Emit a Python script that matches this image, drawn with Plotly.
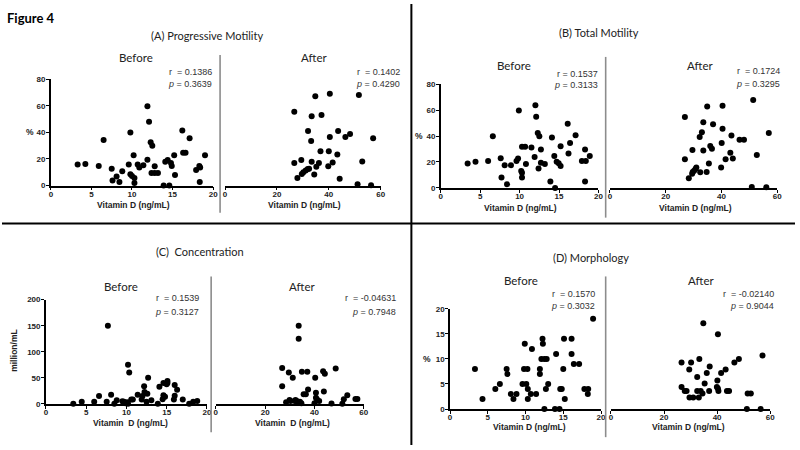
import plotly.graph_objects as go

W, H = 800, 450

# ---------------- data ----------------
a_before_x = [3.3, 4.25, 5.9, 6.5, 7.5, 7.6, 8.1, 8.45, 8.8, 9.6, 9.8, 9.8, 10.0, 10.2, 10.3, 10.3, 10.7, 10.9,
              11.4, 11.9, 11.9, 12.1, 12.3, 12.5, 12.4, 12.8, 12.8, 13.2, 13.9, 14.1, 14.4, 14.6, 14.8, 14.9,
              15.2, 15.3, 16.2, 16.3, 16.6, 17.1, 17.9, 18.3, 18.4, 18.35, 19.0]
a_before_y = [15.8, 16.3, 14.8, 34.3, 12.7, 3.9, 6.8, 2.7, 10.7, 15.8, 39.9, 8.5, 7.3, 22.9, 5.8, 1.9, 15.8, 13.6,
              15.3, 19.5, 59.6, 47.9, 32.6, 29.9, 9.5, 9.5, 14.6, 9.5, 0, 18.0, 19.2, 0, 17.0, 14.8,
              22.9, 8.0, 41.4, 24.6, 24.6, 35.5, 11.7, 14.8, 13.6, 2.7, 22.9]
a_after_x = [26.7, 26.7, 27.9, 29.4, 29.6, 30.2, 31.1, 31.9, 32.4, 32.0, 33.2, 33.4, 33.4, 34.4, 34.8, 35.2, 36.2,
             36.8, 37.2, 39.8, 40.0, 40.4, 40.4, 41.5, 43.3, 43.6, 44.2, 46.4, 48.2, 51.1, 51.6, 52.9, 56.3, 57.1]
a_after_y = [55.5, 17.0, 5.8, 19.2, 8.8, 10.0, 11.4, 12.4, 12.7, 41.1, 33.6, 52.1, 18.0, 8.3, 67.2, 14.1, 17.0,
             25.8, 53.0, 14.6, 25.8, 36.5, 69.1, 17.3, 23.4, 41.1, 5.1, 36.5, 38.7, 1.0, 68.1, 18.2, 0.2, 35.5]

b_before_x = [3.4, 4.4, 6.0, 6.6, 7.6, 7.7, 8.1, 8.4, 8.9, 9.6, 9.8, 9.9, 10.2, 10.3, 10.3, 10.3, 10.7, 10.8,
              11.5, 11.9, 12.0, 12.1, 12.3, 12.5, 12.4, 12.7, 12.7, 13.2, 13.9, 14.1, 14.4, 14.5, 14.7, 14.96,
              15.2, 15.2, 16.1, 16.2, 16.4, 17.1, 17.9, 18.3, 18.4, 18.3, 18.9]
b_before_y = [18.8, 20.1, 20.8, 39.8, 22.8, 8.0, 17.5, 2.8, 17.5, 20.8, 22.6, 59.6, 13.0, 11.8, 8.0, 31.8, 31.8, 18.5,
              31.1, 23.8, 63.7, 54.9, 42.4, 39.8, 15.0, 29.6, 19.5, 18.5, 5.0, 38.8, 24.6, 0, 20.1, 19.0,
              17.0, 32.1, 49.4, 26.6, 34.6, 40.6, 20.8, 29.6, 20.8, 5.0, 24.6]
b_after_x = [26.9, 26.9, 28.3, 29.5, 29.7, 30.2, 30.7, 31.0, 29.6, 32.2, 33.0, 32.4, 33.5, 33.5, 34.7, 34.9, 36.0,
             36.6, 37.0, 35.5, 39.9, 40.1, 40.4, 40.4, 41.5, 43.2, 43.6, 44.1, 46.5, 48.1, 50.9, 51.4, 52.7, 56.1, 57.0]
b_after_y = [54.6, 22.1, 7.5, 11.0, 12.3, 13.3, 14.5, 15.8, 29.3, 39.3, 42.9, 12.0, 50.6, 28.8, 12.3, 62.7, 32.3,
             30.1, 49.1, 18.8, 15.8, 34.6, 45.6, 63.4, 22.1, 27.1, 40.4, 22.6, 37.1, 37.1, 0.8, 67.7, 25.3, 0.5, 42.4]

c_before_x = [3.4, 4.45, 6.0, 6.6, 7.7, 7.55, 8.1, 8.5, 8.8, 9.5, 9.7, 9.9, 10.1, 10.2, 10.35, 10.2, 10.6, 10.8,
              11.4, 11.9, 12.0, 12.2, 12.25, 12.5, 12.6, 12.7, 13.1, 13.9, 14.1, 14.6, 14.5, 14.6, 14.8, 15.0,
              15.1, 15.1, 15.9, 16.0, 16.0, 16.3, 17.0, 17.8, 18.3, 18.8]
c_before_y = [0, 3.8, 3.8, 15.0, 150, 3.8, 17.6, 0, 6.9, 5.0, 3.8, 1.3, 3.1, 75.2, 60.2, 0, 8.2, 8.2,
              17.6, 8.2, 15.0, 33.9, 22.6, 3.8, 19.4, 50.2, 6.9, 0, 32.6, 16.3, 8.8, 40.1, 13.8, 37.6,
              43.9, 40.1, 8.2, 36.4, 15.7, 27.0, 8.2, 0, 3.8, 5.6]
c_after_x = [26.9, 26.9, 28.5, 29.6, 29.9, 30.3, 31.2, 32.0, 32.3, 32.8, 33.6, 33.6, 33.2, 34.1, 34.9, 35.6, 36.5,
             37.1, 37.4, 34.7, 40.3, 40.6, 40.6, 41.0, 41.9, 43.5, 44.2, 43.8, 46.9, 48.6, 51.3, 51.9, 53.3, 56.6,
             57.4, 40.0]
c_after_y = [69.0, 33.9, 3.1, 60.2, 7.5, 5.6, 50.2, 5.6, 7.5, 5.6, 149.8, 124.8, 3.8, 3.8, 61.4, 18.2, 18.2,
             61.4, 27.6, 1.3, 50.2, 21.3, 11.9, 8.8, 5.6, 62.7, 57.7, 23.8, 0.6, 67.7, 0, 8.8, 16.3, 9.4,
             9.4, 1.3]

d_before_x = [3.3, 4.3, 6.0, 6.6, 7.5, 7.6, 8.05, 8.4, 8.8, 9.6, 9.9, 9.8, 10.25, 10.1, 10.3, 10.3, 10.7, 10.85,
              11.4, 11.9, 11.9, 12.1, 12.25, 12.3, 12.5, 12.8, 12.5, 12.7, 13.0, 13.9, 14.05, 14.5, 14.6, 14.8,
              15.0, 15.1, 15.2, 16.1, 16.1, 16.4, 17.1, 17.8, 18.3, 18.25, 18.95]
d_before_y = [8, 2, 4, 5, 8, 7, 3, 2, 3, 5, 13, 8, 8, 5, 4, 2, 3, 12,
              3, 8, 7, 10, 14, 13, 10, 10, 0, 4, 5, 0, 11, 0, 4, 4,
              8, 14, 2, 14, 11, 9, 9, 4, 4, 3, 18]
d_after_x = [26.6, 26.6, 27.8, 28.5, 29.5, 30.2, 29.6, 31.0, 32.5, 32.5, 33.3, 33.1, 33.8, 34.5, 34.8, 35.3, 36.1,
             37.0, 37.2, 39.9, 40.1, 40.3, 40.5, 40.3, 41.5, 43.2, 43.7, 44.5, 46.5, 48.2, 51.2, 51.5, 52.7, 56.4, 57.1]
d_after_y = [9.3, 4.4, 3.6, 3.6, 7.9, 9.3, 2.3, 2.3, 6.4, 3.6, 10.0, 2.3, 3.6, 3.1, 17.1, 5.1, 7.2,
             3.6, 8.5, 4.4, 5.7, 4.1, 3.6, 14.9, 7.2, 7.9, 3.6, 3.6, 9.3, 10.0, 0, 3.1, 3.1, 0, 10.7]

before_xticks = [0, 5, 10, 15, 20]
after_xticks = [0, 20, 40, 60]
ab_yticks = [0, 20, 40, 60, 80]
c_yticks = [0, 50, 100, 150, 200]
d_yticks = [0, 5, 10, 15, 20]

panel_titles = ["(A) Progressive Motility", "(B) Total Motility", "(C)  Concentration", "(D) Morphology"]
stats_r = ["r  = 0.1386", "r  = 0.1402", "r = 0.1537", "r  = 0.1724",
           "r  = 0.1539", "r  = -0.04631", "r  = 0.1570", "r  = -0.02140"]
stats_p = ["0.3639", "0.4290", "0.3133", "0.3295", "0.3127", "0.7948", "0.3032", "0.9044"]
y_titles = ["%", "%", "million/mL", "%"]
x_titles = ["Vitamin D (ng/mL)", "Vitamin D (ng/mL)", "Vitamin  D (ng/mL)", "Vitamin D (ng/mL)"]


def fx(p):
    return p / W


def fy(p):
    return 1 - p / H


# subplot pixel boxes: (x0, x1, ytop, ybottom, xmax, yticks)
boxes = [
    (49.3, 213.0, 76.7, 185.3, 20, ab_yticks),
    (225.0, 382.0, 76.7, 185.3, 60, ab_yticks),
    (442.7, 601.7, 81.7, 187.7, 20, ab_yticks),
    (613.3, 782.0, 81.7, 187.7, 60, ab_yticks),
    (44.3, 206.7, 301.7, 408.0, 20, c_yticks),
    (215.7, 365.0, 301.7, 408.0, 60, c_yticks),
    (452.0, 604.3, 311.0, 413.3, 20, d_yticks),
    (614.3, 775.0, 311.0, 413.3, 60, d_yticks),
]
series = [(a_before_x, a_before_y), (a_after_x, a_after_y), (b_before_x, b_before_y), (b_after_x, b_after_y),
          (c_before_x, c_before_y), (c_after_x, c_after_y), (d_before_x, d_before_y), (d_after_x, d_after_y)]

fig = go.Figure()
tickfont = dict(family="Arial", size=8, color="#222", weight="bold")
layout = dict(width=W, height=H, margin=dict(l=0, r=0, t=0, b=0), showlegend=False,
              plot_bgcolor="white", paper_bgcolor="white")

for i, ((x0, x1, yt, yb, xmax, yticks), (xs, ys)) in enumerate(zip(boxes, series)):
    n = i + 1
    suf = "" if n == 1 else str(n)
    before = (i % 2 == 0)
    fig.add_trace(go.Scatter(x=xs, y=ys, mode="markers", xaxis="x" + suf, yaxis="y" + suf,
                             marker=dict(color="black", size=6), cliponaxis=False, hoverinfo="skip"))
    layout["xaxis" + suf] = dict(domain=[fx(x0), fx(x1)], anchor="y" + suf, range=[0, xmax],
                                 tickvals=before_xticks if before else after_xticks,
                                 showline=True, linecolor="black", linewidth=1.6, ticks="outside",
                                 ticklen=3, tickwidth=1.4, tickcolor="black", showgrid=False, zeroline=False,
                                 tickfont=tickfont, ticklabelstandoff=-3, fixedrange=True)
    layout["yaxis" + suf] = dict(domain=[fy(yb), fy(yt)], anchor="x" + suf, range=[0, yticks[-1]],
                                 tickvals=yticks, showline=before, linecolor="black", linewidth=1.6,
                                 ticks="outside" if before else "", ticklen=3, tickwidth=1.4, tickcolor="black",
                                 showticklabels=before, showgrid=False, zeroline=False, tickfont=tickfont,
                                 ticklabelstandoff=-1, fixedrange=True)

fig.update_layout(**layout)

ann = []


def text(x, y, s, size=11, family="Lato", xanchor="center", bold=False, angle=0, color="#222"):
    ann.append(dict(x=fx(x), y=fy(y), xref="paper", yref="paper", text=s, showarrow=False,
                    xanchor=xanchor, yanchor="middle", textangle=angle, borderpad=0,
                    font=dict(family=family, size=size, color=color, weight="bold" if bold else "normal")))


text(4, 14, "Figure 4", size=13, xanchor="left", bold=True, color="black")

# panel titles
title_pos = [(207, 32), (602, 29), (200, 253), (594, 259)]
for t, (x, y) in zip(panel_titles, title_pos):
    text(x, y, t, size=11)

# Before / After headers
hdr = [((135, 55), (315, 55)), ((517, 63), (704, 63)), ((120, 288), (303, 288)), ((524, 282), (705, 282))]
for (b, a) in hdr:
    text(b[0], b[1], "Before", size=11.5)
    text(a[0], a[1], "After", size=11.5)

# stats
stat_pos = [(213, 69, 82), (403, 69, 82), (602, 71, 83), (786, 68, 82),
            (200, 300, 314), (398, 300, 314), (599, 296, 308), (780, 296, 308)]
for r, p, (x, y1, y2) in zip(stats_r, stats_p, stat_pos):
    text(x, y1, r, size=9, family="Arial", xanchor="right", color="#333")
    text(x, y2, "<i>p</i> = " + p, size=9, family="Arial", xanchor="right", color="#333")

# y titles
ytp = [(28, 131, 0), (421, 135, 0), (12, 353, -90), (429, 362, 0)]
for t, (x, y, ang) in zip(y_titles, ytp):
    text(x, y, t, size=8.5, family="Arial", bold=True, angle=ang, color="#222")

# x titles
xtp = [((133, 205), (305, 205)), ((523, 208), (700, 208)), ((130, 428), (293, 428)), ((532, 432), (693, 432))]
for t, (b, a) in zip(x_titles, xtp):
    text(b[0], b[1], t, size=8.5, family="Arial", bold=True, color="#222")
    text(a[0], a[1], t, size=8.5, family="Arial", bold=True, color="#222")

fig.update_layout(annotations=ann)

shapes = []
# gray dividers
for (x, y0, y1) in [(220, 52, 213), (609, 54, 218), (211, 278, 437), (609, 278, 442)]:
    shapes.append(dict(type="line", xref="paper", yref="paper", x0=fx(x), x1=fx(x), y0=fy(y0), y1=fy(y1),
                       line=dict(color="#8c8c8c", width=1.6)))
# black frame lines
shapes.append(dict(type="line", xref="paper", yref="paper", x0=fx(413), x1=fx(413), y0=0, y1=1,
                   line=dict(color="black", width=2)))
shapes.append(dict(type="line", xref="paper", yref="paper", x0=0, x1=1, y0=fy(224), y1=fy(224),
                   line=dict(color="black", width=2)))
fig.update_layout(shapes=shapes)

fig.write_html("out.html", config={"displayModeBar": False},
               post_script="document.body.style.margin='0';document.body.style.overflow='hidden';")
